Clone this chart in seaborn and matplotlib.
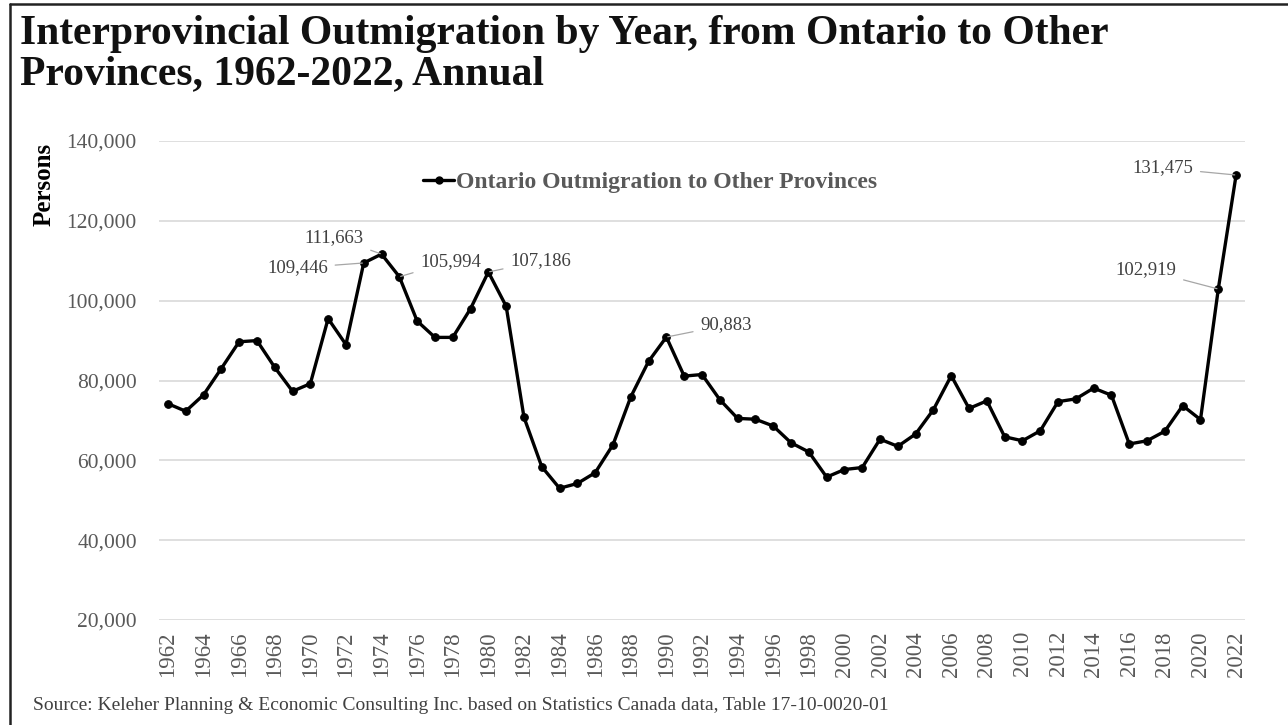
import matplotlib
matplotlib.use("Agg")
import matplotlib.pyplot as plt
from matplotlib.lines import Line2D
import seaborn as sns
import pandas as pd

# Annual persons leaving Ontario for other provinces
years = list(range(1962, 2023))
outmigration = [
    74200, 72300, 76400, 83000, 89700, 90000, 83300, 77300, 79200, 95500,
    89000, 109446, 111663, 105994, 94900, 90800, 90800, 98000, 107186, 98600,
    70800, 58400, 53000, 54200, 56900, 63900, 75900, 84800, 90883, 81100,
    81500, 75200, 70500, 70300, 68600, 64400, 62100, 55800, 57700, 58200,
    65300, 63500, 66600, 72700, 81200, 73000, 74900, 65900, 64900, 67400,
    74700, 75400, 78100, 76300, 64100, 64900, 67300, 73700, 70200, 102919,
    131475,
]
series_name = "Ontario Outmigration to Other Provinces"
y_ticks = [20000, 40000, 60000, 80000, 100000, 120000, 140000]
x_ticks = list(range(1962, 2023, 2))

# Labelled years and their label offsets (pixels from the point)
label_years = [1973, 1974, 1975, 1980, 1990, 2021, 2022]
label_offsets = {
    1973: (-36, -5, "right"),
    1974: (-18, 17, "right"),
    1975: (21, 15, "left"),
    1980: (22, 11, "left"),
    1990: (34, 12, "left"),
    2021: (-42, 19, "right"),
    2022: (-43, 7, "right"),
}

df = pd.DataFrame({"Year": years, "Persons": outmigration, "Series": series_name})

sns.set_theme(style="white")
plt.rcParams["font.family"] = ["Liberation Serif", "DejaVu Serif"]

W, H = 1288, 725
fig = plt.figure(figsize=(W / 100, H / 100), dpi=100)
fig.patch.set_facecolor("white")
ax = fig.add_axes([159 / W, 1 - 620 / H, (1245 - 159) / W, (620 - 141) / H])

sns.lineplot(data=df, x="Year", y="Persons", ax=ax, color="black", linewidth=2.4,
             marker="o", markersize=5.5, markeredgecolor="black", legend=False)

ax.set_xlim(1961.5, 2022.5)
ax.set_ylim(20000, 140000)
ax.set_yticks(y_ticks)
ax.set_yticklabels([f"{v:,}" for v in y_ticks], fontsize=15.5, color="#595959")
ax.set_xticks(x_ticks)
ax.set_xticklabels([str(v) for v in x_ticks], rotation=90, fontsize=16.5, color="#595959")
ax.tick_params(axis="x", length=0, pad=8)
ax.tick_params(axis="y", length=0, pad=16)
ax.grid(axis="y", color="#d9d9d9", linewidth=1.2)
ax.grid(axis="x", visible=False)
ax.set_axisbelow(True)
for s in ax.spines.values():
    s.set_visible(False)
ax.set_xlabel("")
ax.set_ylabel("")

# Data labels with leader lines
for yr in label_years:
    val = outmigration[years.index(yr)]
    dx, dy, ha = label_offsets[yr]
    ax.annotate(f"{val:,}", xy=(yr, val), xytext=(dx, dy), textcoords="offset pixels",
                ha=ha, va="center", fontsize=13.5, color="#404040",
                arrowprops=dict(arrowstyle="-", color="#a6a6a6", lw=0.9,
                                shrinkA=3, shrinkB=1))

# Legend
handle = Line2D([], [], color="black", linewidth=2.4, marker="o", markersize=5)
fig.legend([handle], [series_name], loc="center left",
           bbox_to_anchor=(402 / W, 1 - 182 / H), frameon=False,
           handlelength=1.3, handletextpad=0.1,
           prop={"size": 17, "weight": "bold"}, labelcolor="#595959")

# Titles and notes
fig.text(20 / W, 1 - 15 / H,
         "Interprovincial Outmigration by Year, from Ontario to Other\nProvinces, 1962-2022, Annual",
         ha="left", va="top", fontsize=30, fontweight="bold", color="#111111",
         linespacing=1.08)
fig.text(44 / W, 1 - 184 / H, "Persons", rotation=90, ha="center", va="center",
         fontsize=18, fontweight="bold", color="black")
fig.text(33 / W, 1 - 706 / H,
         "Source: Keleher Planning & Economic Consulting Inc. based on Statistics Canada data, Table 17-10-0020-01",
         ha="left", va="center", fontsize=14, color="#404040")

# Outer frame lines (top and left)
fig.add_artist(Line2D([10 / W, 1], [1 - 4 / H, 1 - 4 / H], transform=fig.transFigure,
                      color="#222222", linewidth=1.8))
fig.add_artist(Line2D([10 / W, 10 / W], [0, 1 - 4 / H], transform=fig.transFigure,
                      color="#222222", linewidth=1.8))

fig.savefig("out.png", dpi=100, facecolor="white")
